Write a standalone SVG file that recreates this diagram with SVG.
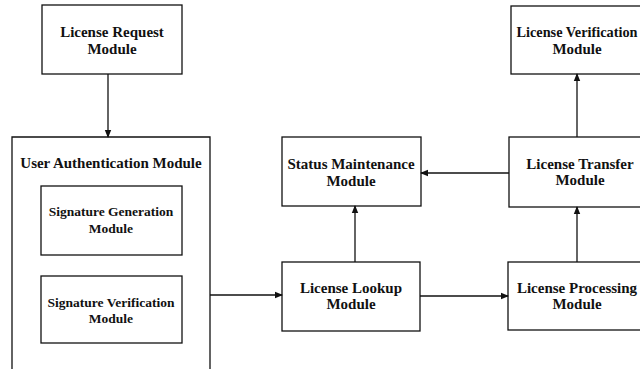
<svg xmlns="http://www.w3.org/2000/svg" width="640" height="369" viewBox="0 0 640 369">
<style>
.box{fill:#fff;stroke:#111;stroke-width:1.3}
.t{font-family:"Liberation Serif","Times New Roman",serif;font-weight:bold;font-size:15px;fill:#111;text-anchor:middle}
.s{font-size:13.5px}
.c{fill:none;stroke:#111;stroke-width:1.3}
</style>
<defs>
<marker id="ah" markerWidth="8" markerHeight="8" refX="7" refY="4" orient="auto" markerUnits="userSpaceOnUse">
<path d="M0,0.8 L8,4 L0,7.2 Z" fill="#111"/>
</marker>
</defs>
<rect width="640" height="369" fill="#fff"/>
<g id="request">
<rect class="box" x="42" y="5" width="140" height="69"/>
<text class="t" x="112" y="37">License Request</text>
<text class="t" x="112" y="54">Module</text>
</g>
<g id="userauth">
<path class="c" d="M12,372 V137 H210 V372"/>
<text class="t" x="111" y="168">User Authentication Module</text>
</g>
<g id="siggen">
<rect class="box" x="41" y="186" width="141" height="69"/>
<text class="t s" x="111" y="216">Signature Generation</text>
<text class="t s" x="111" y="233">Module</text>
</g>
<g id="sigver">
<rect class="box" x="41" y="276" width="141" height="67"/>
<text class="t s" x="111" y="307">Signature Verification</text>
<text class="t s" x="111" y="323">Module</text>
</g>
<g id="status">
<rect class="box" x="282" y="137" width="139" height="69"/>
<text class="t" x="351" y="169">Status Maintenance</text>
<text class="t" x="351" y="186">Module</text>
</g>
<g id="lookup">
<rect class="box" x="282" y="262" width="138" height="69"/>
<text class="t" x="351" y="293">License Lookup</text>
<text class="t" x="351" y="309">Module</text>
</g>
<g id="verification">
<rect class="box" x="511" y="6" width="140" height="68"/>
<text class="t" x="577" y="37" style="font-size:14.3px">License Verification</text>
<text class="t" x="577" y="54">Module</text>
</g>
<g id="transfer">
<rect class="box" x="509" y="137" width="142" height="70"/>
<text class="t" x="580" y="169">License Transfer</text>
<text class="t" x="580" y="185">Module</text>
</g>
<g id="processing">
<rect class="box" x="508" y="262" width="143" height="68"/>
<text class="t" x="577" y="293">License Processing</text>
<text class="t" x="577" y="309">Module</text>
</g>
<g id="connectors">
<path class="c" d="M108,74 V137" marker-end="url(#ah)"/>
<path class="c" d="M210,295 H282" marker-end="url(#ah)"/>
<path class="c" d="M355,262 V206" marker-end="url(#ah)"/>
<path class="c" d="M420,296 H508" marker-end="url(#ah)"/>
<path class="c" d="M577,262 V207" marker-end="url(#ah)"/>
<path class="c" d="M509,173 H421" marker-end="url(#ah)"/>
<path class="c" d="M577,137 V74" marker-end="url(#ah)"/>
</g>
</svg>
